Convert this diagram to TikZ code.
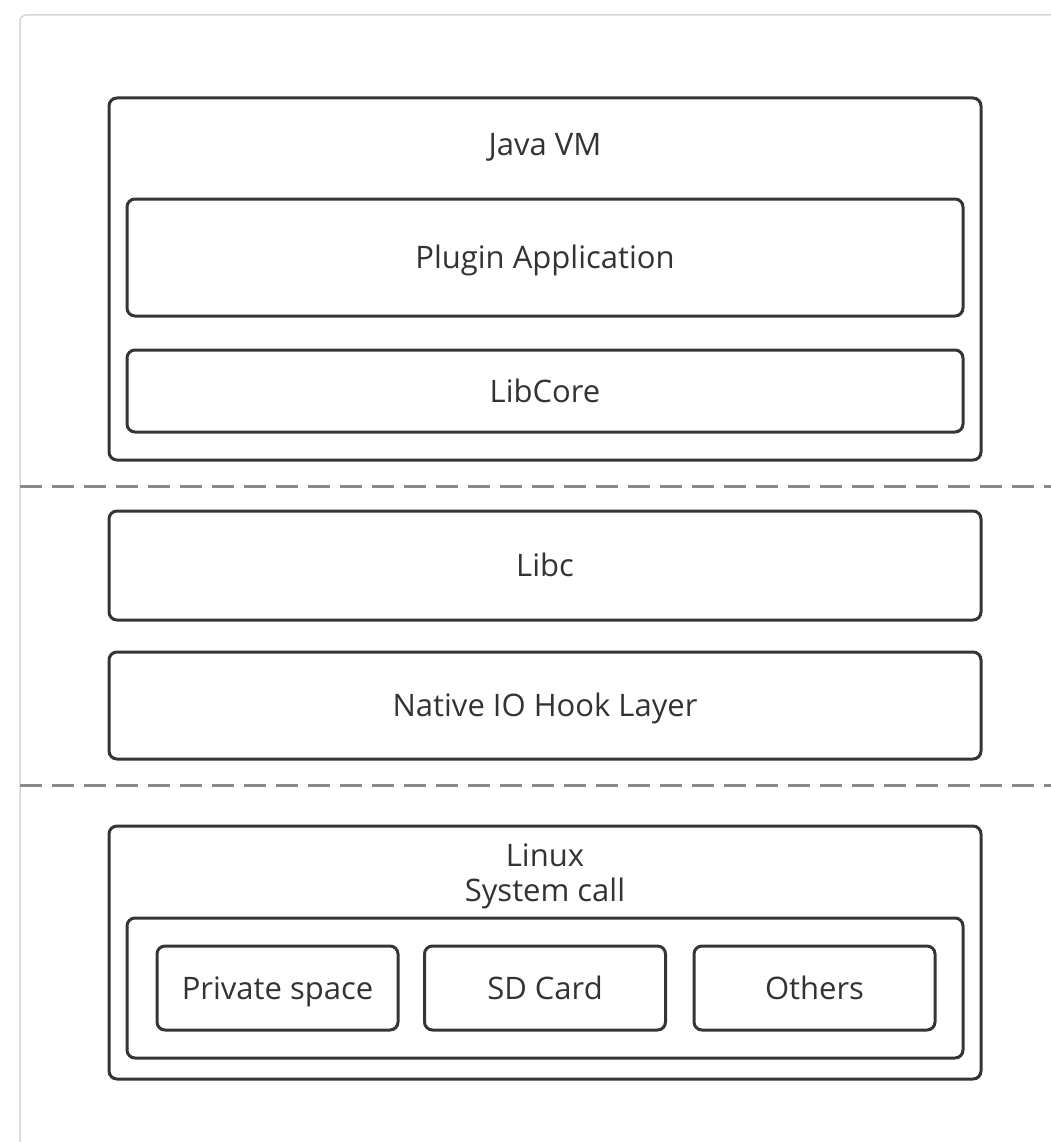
\documentclass[tikz,border=0pt]{standalone}
\usepackage{fontspec}
\setmainfont{Open Sans}
\definecolor{boxgray}{HTML}{353535}
\definecolor{textgray}{HTML}{333333}
\definecolor{dashgray}{HTML}{8A8A8A}
\definecolor{framegray}{HTML}{D6D6D6}
\begin{document}
\begin{tikzpicture}[x=1pt,y=-1pt,
    layer/.style={draw=boxgray, line width=3pt, rounded corners=8pt, inner sep=0pt,
      font=\fontsize{31}{36}\selectfont, text=textgray, text height=22pt, text depth=0pt},
    title/.style={font=\fontsize{31}{36}\selectfont, text=textgray, inner sep=0pt,
      text height=22pt, text depth=0pt},
    sep/.style={draw=dashgray, line width=3pt, dash pattern=on 22pt off 10pt}]
  \useasboundingbox (0,0) rectangle (1051,1142);
  \draw[framegray, line width=1.5pt, rounded corners=6pt] (20,1160) -- (20,15) -- (1070,15);
  % java side
  \node[layer, minimum width=872pt, minimum height=362pt] (jvm) at (545,279) {};
  \node[title] (jvmtitle) at (545,145) {Java VM};
  \node[layer, minimum width=836pt, minimum height=117pt] (plugin) at (545,257.5) {Plugin Application};
  \node[layer, minimum width=836pt, minimum height=82pt] (libcore) at (545,391) {LibCore};
  \draw[sep] (20,486) -- (1051,486);
  % native side
  \node[layer, minimum width=872pt, minimum height=109pt] (libc) at (545,565.5) {Libc};
  \node[layer, minimum width=872pt, minimum height=107pt] (hook) at (545,705.5) {Native IO Hook Layer};
  \draw[sep] (20,785) -- (1051,785);
  % kernel side
  \node[layer, minimum width=872pt, minimum height=253pt] (linux) at (545,952.5) {};
  \node[title] (linuxtitle) at (545,855) {Linux};
  \node[title] (syscall) at (545,890) {System call};
  \node[layer, minimum width=836pt, minimum height=140pt] (storage) at (545,988) {};
  \node[layer, minimum width=241pt, minimum height=84pt] (private) at (277.5,988) {Private space};
  \node[layer, minimum width=241pt, minimum height=84pt] (sdcard) at (545,988) {SD Card};
  \node[layer, minimum width=241pt, minimum height=84pt] (others) at (814.5,988) {Others};
\end{tikzpicture}
\end{document}
